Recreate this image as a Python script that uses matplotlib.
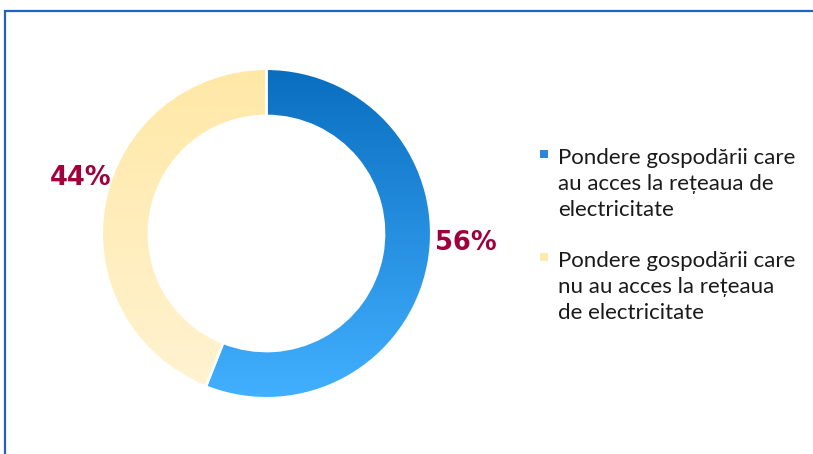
import matplotlib.pyplot as plt
import numpy as np
from matplotlib.colors import LinearSegmentedColormap
from matplotlib.patches import Rectangle

# share of households with / without access to the electricity network
labels = ['Pondere gospodării care\nau acces la rețeaua de\nelectricitate',
          'Pondere gospodării care\nnu au acces la rețeaua\nde electricitate']
values = [56, 44]
pct_text = ['56%', '44%']

W, H = 813, 454
fig = plt.figure(figsize=(W / 100, H / 100), dpi=100)

# blue frame (only left and top visible in the crop)
fig.patches.append(Rectangle((5 / W, -0.1), 1.2, (H - 11) / H + 0.1, transform=fig.transFigure,
                             fill=False, edgecolor='#1F62C0', linewidth=1.6))

# donut axes, center at (266.5, 233.5) px, radius 164.7 px
cx, cy, r = 266.5, 233.5, 164.7
lim = 1.4
ax = fig.add_axes([(cx - r * lim) / W, (H - cy - r * lim) / H, 2 * r * lim / W, 2 * r * lim / H])

wedges, _ = ax.pie(values, startangle=90, counterclock=False, radius=1,
                   wedgeprops=dict(width=0.286, facecolor='none', edgecolor='white', linewidth=1.8))
for w in wedges:
    w.set_zorder(3)

grads = [('#0A6EBF', '#42B0FF'), ('#FFE8A6', '#FFF3D2')]
for w, (top, bot) in zip(wedges, grads):
    cmap = LinearSegmentedColormap.from_list('g', [bot, top])
    g = np.linspace(0, 1, 256).reshape(-1, 1)
    im = ax.imshow(g, cmap=cmap, origin='lower', extent=(-1, 1, -1, 1), aspect='auto', zorder=2)
    im.set_clip_path(w)

ax.set_xlim(-lim, lim)
ax.set_ylim(-lim, lim)
ax.set_aspect('equal')
ax.axis('off')

lab_color = '#A0003C'
ax.text(1.21, -0.06, pct_text[0], color=lab_color, fontsize=18.5, fontweight='bold',
        ha='center', va='center')
ax.text(-1.13, 0.34, pct_text[1], color=lab_color, fontsize=18.5, fontweight='bold',
        ha='center', va='center')

# legend, marker next to the first line of each entry
marker_colors = ['#2C88D6', '#FFE9AC']
first_baselines = [161, 264]
line_h = 27.5
for lab, col, yb in zip(labels, marker_colors, first_baselines):
    n = lab.count('\n')
    fig.text(558 / W, 1 - (yb + n * line_h) / H, lab, fontfamily='Lato', fontsize=16.0,
             color='#1A1A1A', ha='left', va='baseline', linespacing=1.37)
    fig.patches.append(Rectangle((540 / W, 1 - (yb - 3.5) / H), 7.5 / W, 7.5 / H,
                                 transform=fig.transFigure, facecolor=col, edgecolor='none'))

fig.savefig('out.png', dpi=100)
